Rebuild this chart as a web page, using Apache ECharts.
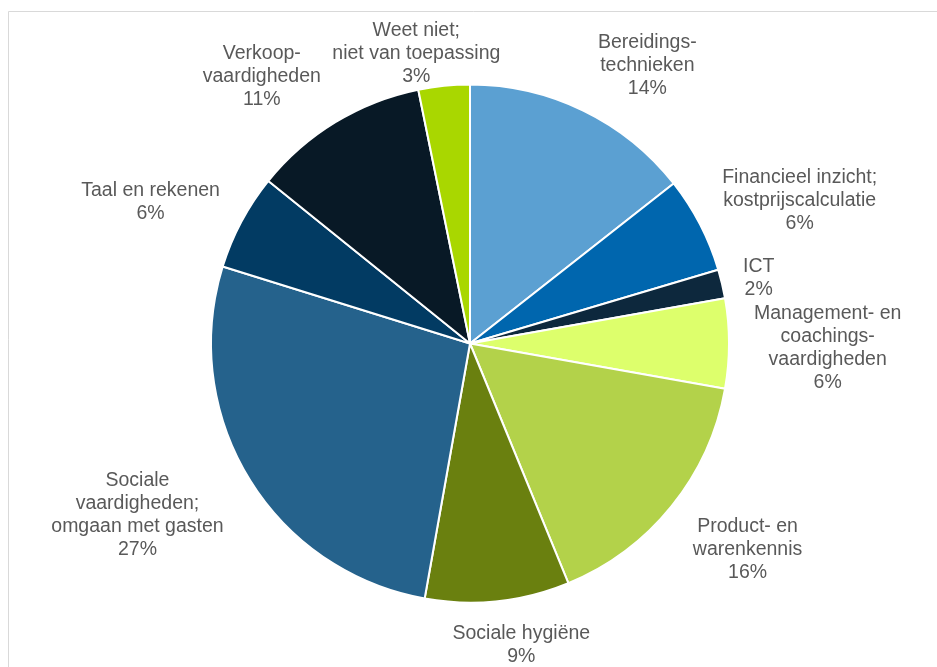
<!DOCTYPE html>
<html>
<head>
<meta charset="utf-8">
<script src="https://cdn.jsdelivr.net/npm/echarts@6/dist/echarts.min.js"></script>
<style>
html,body{margin:0;padding:0;background:#fff;}
#chart{width:937px;height:667px;}
</style>
</head>
<body>
<div id="chart"></div>
<script>
// Categories (clockwise from 12 o'clock)
var categories = [
  'Bereidings-\ntechnieken',
  'Financieel inzicht;\nkostprijscalculatie',
  'ICT',
  'Management- en\ncoachings-\nvaardigheden',
  'Product- en\nwarenkennis',
  'Sociale hygiëne',
  'Sociale\nvaardigheden;\nomgaan met gasten',
  'Taal en rekenen',
  'Verkoop-\nvaardigheden',
  'Weet niet;\nniet van toepassing'
];
// Shares (percent)
var shares = [14.4, 6.0, 1.8, 5.6, 16.0, 9.0, 27.0, 6.0, 11.0, 3.2];
var colors = ['#5BA0D2', '#0066AE', '#0D283D', '#DDFF6C', '#B3D24A', '#6A800F', '#25628C', '#023B63', '#081926', '#A9D700'];
// Label placement fine-tuning (px, relative to the computed outside position)
var labelNudge = [[35, 15], [12, 22], [3, 2], [11, 5], [15, -6], [19, 0], [-16, -21], [-15, 21], [-35, 18], [-22, 24]];

var chart = echarts.init(document.getElementById('chart'), null, {renderer: 'canvas'});
var GAP = 14;
var data = categories.map(function (c, i) {
  return {name: c, value: shares[i], itemStyle: {color: colors[i]}};
});

chart.setOption({
  animation: false,
  backgroundColor: '#ffffff',
  graphic: [{
    type: 'rect',
    shape: {x: 8.5, y: 11.5, width: 1200, height: 1200},
    style: {fill: 'none', stroke: '#D9D9D9', lineWidth: 1},
    silent: true,
    z: -10
  }],
  series: [{
    type: 'pie',
    center: [470, 343.5],
    radius: 259,
    startAngle: 90,
    clockwise: true,
    avoidLabelOverlap: false,
    percentPrecision: 0,
    data: data,
    itemStyle: {borderColor: '#ffffff', borderWidth: 2},
    label: {
      show: true,
      position: 'outside',
      formatter: '{b}\n{d}%',
      fontFamily: '"Liberation Sans", Arial, sans-serif',
      fontSize: 19.5,
      lineHeight: 23,
      color: '#595959'
    },
    labelLine: {show: true, length: 10, length2: 0, lineStyle: {opacity: 0, width: 0}},
    labelLayout: function (p) {
      var pts = p.labelLinePoints;
      if (!pts) return {};
      var x0 = pts[0][0], y0 = pts[0][1], x1 = pts[1][0], y1 = pts[1][1];
      var L = Math.sqrt((x1 - x0) * (x1 - x0) + (y1 - y0) * (y1 - y0)) || 1;
      var ux = (x1 - x0) / L, uy = (y1 - y0) / L;
      var w = p.labelRect.width, h = p.labelRect.height;
      var ext = Math.abs(ux) * w / 2 + Math.abs(uy) * h / 2;
      var d = GAP + ext;
      var nd = labelNudge[p.dataIndex] || [0, 0];
      return {x: x0 + ux * d + nd[0], y: y0 + uy * d + nd[1], align: 'center', verticalAlign: 'middle'};
    },
    emphasis: {disabled: true}
  }]
});
</script>
</body>
</html>
